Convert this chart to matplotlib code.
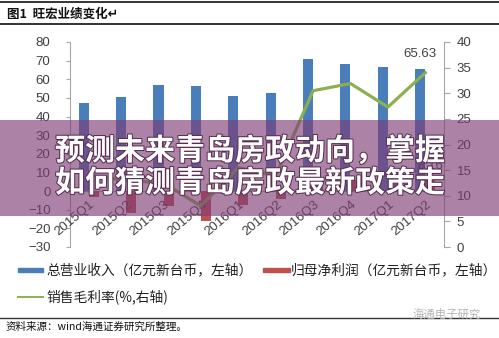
import matplotlib
matplotlib.use("Agg")
import matplotlib.pyplot as plt
import matplotlib.patheffects as pe
from matplotlib.lines import Line2D
from matplotlib.patches import Rectangle
import numpy as np

plt.rcParams["font.family"] = ["Noto Sans CJK SC", "DejaVu Sans"]

quarters = ["2015Q1", "2015Q2", "2015Q3", "2015Q4", "2016Q1",
            "2016Q2", "2016Q3", "2016Q4", "2017Q1", "2017Q2"]
revenue = [47.0, 50.3, 57.0, 56.5, 51.0, 52.5, 71.0, 68.0, 66.5, 65.63]
net_profit = [-3.0, -11.5, -7.8, -15.8, -7.6, -4.5, 2.0, 6.0, 4.0, 8.16]
gross_margin = [14.0, 13.0, 12.5, 8.0, 15.5, 13.9, 30.5, 31.9, 27.3, 34.0]

left_ticks = list(range(-30, 81, 10))
right_ticks = list(range(0, 41, 5))

legend_labels = ["总营业收入（亿元新台币，左轴）", "归母净利润（亿元新台币，左轴）",
                 "销售毛利率(%,右轴)"]
title_text = "图1  旺宏业绩变化"
source_text = "资料来源：wind海通证券研究所整理。"
mark_text = "海通电子研究"
banner_lines = ["预测未来青岛房政动向，掌握", "如何猜测青岛房政最新政策走"]

BLUE = "#4a7ebb"
RED = "#c0504d"
GREEN = "#8db04e"
AXIS_GREY = "#a6a6a6"
TICK_COLOR = "#404040"

W, H = 499, 338


def px(x, y):
    """Pixel position (from top-left) to figure fraction."""
    return x / W, 1 - y / H


fig = plt.figure(figsize=(W / 100, H / 100), dpi=100)
fig.patch.set_facecolor("white")

ax = fig.add_axes([70 / W, 1 - 247 / H, (444 - 70) / W, (247 - 42) / H])
ax2 = ax.twinx()

x = np.arange(len(quarters))
bw = 0.27
ax.bar(x - bw / 2, revenue, width=bw, color=BLUE, zorder=2)
ax.bar(x + bw / 2, net_profit, width=bw, color=RED, zorder=2)
ax.axhline(0, color=AXIS_GREY, lw=0.8, zorder=1)

ax.set_xlim(-0.5, len(quarters) - 0.5)
ax.set_ylim(-30, 80)
ax.set_yticks(left_ticks)
ax.set_xticks([])

ax2.plot(x, gross_margin, color=GREEN, lw=2.3, zorder=3)
ax2.set_ylim(0, 40)
ax2.set_yticks(right_ticks)

for a in (ax, ax2):
    a.patch.set_visible(False)
    for side in ("top", "bottom"):
        a.spines[side].set_visible(False)
ax.spines["right"].set_visible(False)
ax2.spines["left"].set_visible(False)
ax.spines["left"].set_color(AXIS_GREY)
ax2.spines["right"].set_color(AXIS_GREY)

ax.tick_params(axis="y", length=3, color=AXIS_GREY, labelcolor=TICK_COLOR,
               labelsize=9.5, pad=11)
ax2.tick_params(axis="y", length=4, color=AXIS_GREY, labelcolor=TICK_COLOR,
                labelsize=9.5, pad=5)
for lab in ax.get_yticklabels() + ax2.get_yticklabels():
    lab.set_fontfamily("Liberation Sans")

# category labels sit just under the zero line
for i, q in enumerate(quarters):
    ax.text(i + 0.12, -6.5, q, rotation=40, rotation_mode="anchor",
            ha="right", va="center", fontsize=9.5, color=TICK_COLOR,
            family="Liberation Sans", zorder=4)

ax.annotate(f"{revenue[-1]:.2f}", (x[-1] - bw / 2, revenue[-1]),
            xytext=(0, 6), textcoords="offset points", ha="center", va="bottom",
            fontsize=9.5, color=TICK_COLOR, family="Liberation Sans")
ax.annotate(f"{net_profit[-1]:.2f}", (x[-1] + bw / 2, net_profit[-1]),
            xytext=(0, 3), textcoords="offset points", ha="center", va="bottom",
            fontsize=9.5, color=TICK_COLOR, family="Liberation Sans")

# header rules and title
for yy, lw in ((2, 1.4), (24, 1.4), (318, 1.0)):
    fig.add_artist(Line2D([0, 1], [1 - yy / H] * 2, color="#333333", lw=lw,
                          transform=fig.transFigure))
fig.text(*px(7, 14), title_text + "↵", fontsize=9, fontweight="bold",
         va="center", ha="left", color="#111111")

# legend
fig.add_artist(Rectangle(px(18, 272), 25 / W, 4.5 / H, color=BLUE,
                         transform=fig.transFigure))
fig.add_artist(Rectangle(px(263, 272), 27 / W, 4.5 / H, color=RED,
                         transform=fig.transFigure))
fig.add_artist(Line2D([18 / W, 43 / W], [1 - 297 / H] * 2, color=GREEN, lw=1.4,
                      transform=fig.transFigure))
legend_pos = [(46, 270), (291, 270), (46, 297)]
for (lx, ly), label in zip(legend_pos, legend_labels):
    fig.text(*px(lx, ly), label, fontsize=9.9, va="center", color="#222222")

# footer
fig.text(*px(6, 327), source_text, fontsize=7.6, va="center", color="#111111")
fig.text(*px(413, 314), mark_text, fontsize=8.2, va="center", color="#b5b5b5")

# overlay banner across the chart
fig.add_artist(Rectangle(px(0, 216), 1, 96 / H, facecolor="#7d3c75", alpha=0.64,
                         edgecolor="none", transform=fig.transFigure, zorder=10))
shadow = [pe.withStroke(linewidth=1.5, foreground="#5a3050")]
for k, line in enumerate(banner_lines):
    fig.text(*px(55, 151 + 32 * k), line, fontsize=21.6, fontweight="bold",
             color="white", va="center", ha="left", zorder=11, path_effects=shadow)

fig.savefig("out.png", dpi=100)
